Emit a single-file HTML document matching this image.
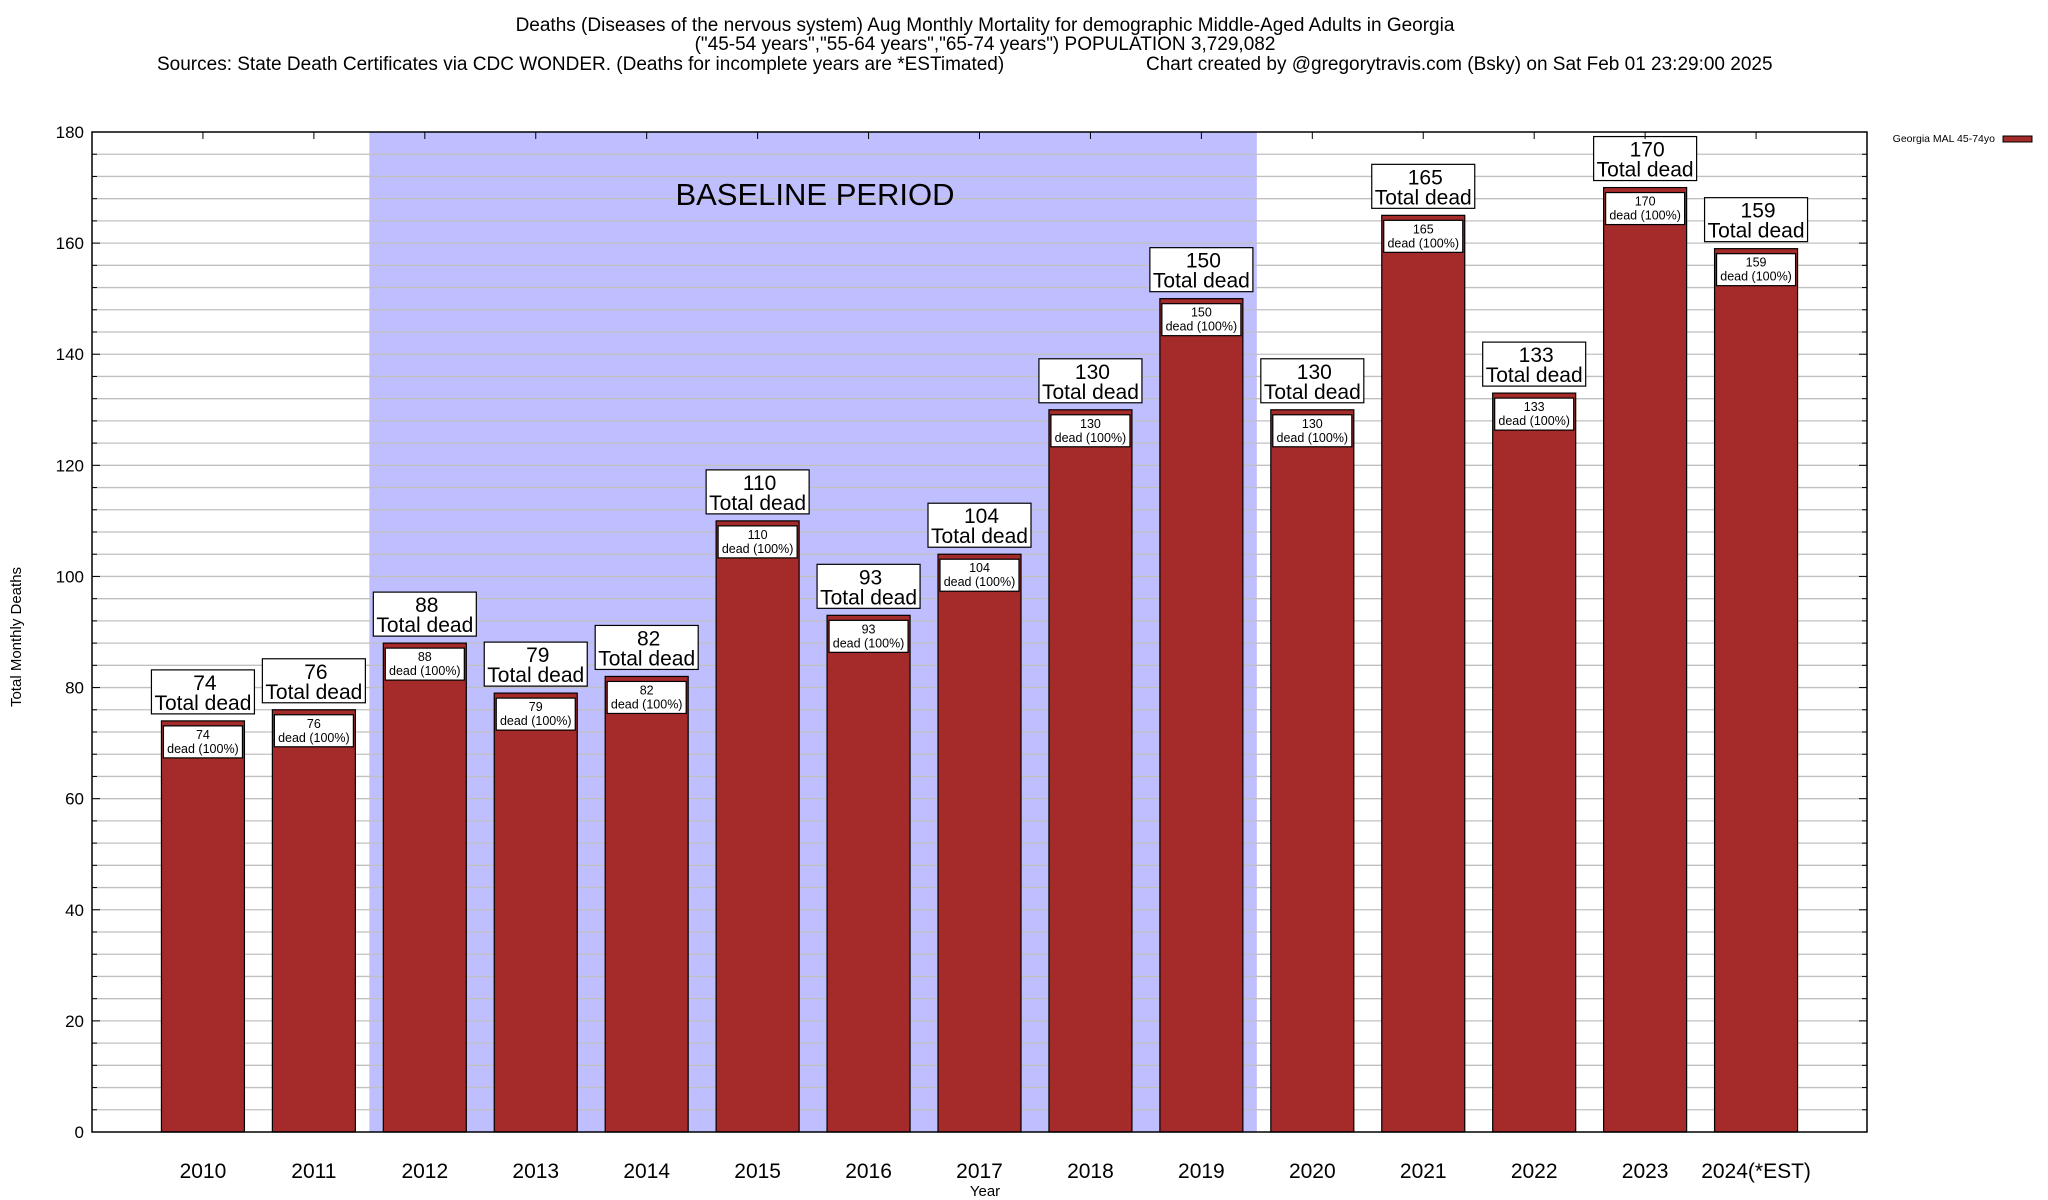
<!DOCTYPE html>
<html><head><meta charset="utf-8"><style>
html,body{margin:0;padding:0;background:#fff;}
svg{display:block;font-family:"Liberation Sans",Arial,sans-serif;}
</style></head><body>
<svg id="chart" width="2048" height="1200" xmlns="http://www.w3.org/2000/svg">
<rect x="0" y="0" width="2048" height="1200" fill="#fff"/>
<text x="985" y="31" font-size="19" text-anchor="middle">Deaths (Diseases of the nervous system) Aug Monthly Mortality for demographic Middle-Aged Adults in Georgia</text>
<text x="985" y="50" font-size="19" text-anchor="middle">("45-54 years","55-64 years","65-74 years") POPULATION 3,729,082</text>
<text x="157" y="70" font-size="19">Sources: State Death Certificates via CDC WONDER. (Deaths for incomplete years are *ESTimated)</text>
<text x="1146" y="70" font-size="19">Chart created by @gregorytravis.com (Bsky) on Sat Feb 01 23:29:00 2025</text>
<g id="plot"></g>
<text transform="translate(21,637) rotate(-90)" font-size="15" text-anchor="middle">Total Monthly Deaths</text>
<text x="985" y="1196" font-size="15" text-anchor="middle">Year</text>
<g>
<text x="1995" y="142" font-size="10.5" text-anchor="end">Georgia MAL 45-74yo</text>
<rect x="2003" y="136" width="29" height="6" fill="#a52a2a" stroke="#000" stroke-width="1"/>
</g>
</svg>
<script>
const categories = ["2010","2011","2012","2013","2014","2015","2016","2017","2018","2019","2020","2021","2022","2023","2024(*EST)"];
const deaths = [74,76,88,79,82,110,93,104,130,150,130,165,133,170,159];
const yTicks = [0,20,40,60,80,100,120,140,160,180];
const baselineRange = [2012, 2019];

const NS = "http://www.w3.org/2000/svg";
const L = 92, R = 1867, T = 132, B = 1132, YMAX = 180;
const slot = (R - L) / (categories.length + 1);
const xPos = i => L + slot * (i + 1);
const yPos = v => B - (v / YMAX) * (B - T);
const g = document.getElementById("plot");
function mk(tag, attrs, parent) {
  const e = document.createElementNS(NS, tag);
  for (const k in attrs) e.setAttribute(k, attrs[k]);
  (parent || g).appendChild(e);
  return e;
}
const bi0 = categories.indexOf(String(baselineRange[0]));
const bi1 = categories.indexOf(String(baselineRange[1]));
const shade = mk("rect", {x: xPos(bi0) - slot/2, y: T, width: xPos(bi1) - xPos(bi0) + slot, height: B - T, fill: "#bfbfff"});


for (let v = 4; v < YMAX; v += 4) {
  const gl = mk("line", {x1: L, x2: R, y1: yPos(v), y2: yPos(v), stroke: "#c0c0c0", "stroke-width": 1.3});
  
  
  const isMajor = v % 20 === 0;
  const len = isMajor ? 8 : 5;
  const tl = mk("line", {x1: L, x2: L + len, y1: yPos(v), y2: yPos(v), stroke: "#000", "stroke-width": 1});
  
  
  const tr = mk("line", {x1: R - len, x2: R, y1: yPos(v), y2: yPos(v), stroke: "#000", "stroke-width": 1});
  
  
}
const bl = mk("text", {x: 815, y: 205, "font-size": 31, "text-anchor": "middle"});
bl.textContent = "BASELINE PERIOD";


yTicks.forEach(v => {
  const t = mk("text", {x: 84, y: yPos(v) + 6, "font-size": 17, "text-anchor": "end"});
  t.textContent = v;
  
  
});
const bw = 83;
categories.forEach((c, i) => {
  const cx = xPos(i), v = deaths[i], top = yPos(v);
  const bar = mk("rect", {x: cx - bw/2, y: top, width: bw, height: B - top, fill: "#a52a2a", stroke: "#000", "stroke-width": 1.2});
  
  
  const inner = mk("rect", {x: cx - bw/2 + 2, y: top + 5, width: bw - 4, height: 32, fill: "#fff", stroke: "#000", "stroke-width": 1.2});
  
  
  const t1 = mk("text", {x: cx, y: top + 18, "font-size": 12.5, "text-anchor": "middle"});
  t1.textContent = v;
  
  
  const t2 = mk("text", {x: cx, y: top + 32, "font-size": 12.5, "text-anchor": "middle"});
  t2.textContent = "dead (100%)";
  
  
  const boxB = top - 7, boxT = boxB - 44;
  const box = mk("rect", {x: cx - 51.5, y: boxT, width: 103, height: 44, fill: "#fff", stroke: "#000", "stroke-width": 1.2});
  
  
  const t3 = mk("text", {x: cx + 2, y: boxT + 20, "font-size": 21, "text-anchor": "middle"});
  t3.textContent = v;
  
  
  const t4 = mk("text", {x: cx, y: boxT + 40, "font-size": 21, "text-anchor": "middle"});
  t4.textContent = "Total dead";
  
  
  const tt = mk("line", {x1: cx, x2: cx, y1: T, y2: T + 7, stroke: "#000", "stroke-width": 1});
  
  
  const xl = mk("text", {x: cx, y: 1178, "font-size": 21, "text-anchor": "middle"});
  xl.textContent = c;
  
  
});
const frame = mk("rect", {x: L, y: T, width: R - L, height: B - T, fill: "none", stroke: "#000", "stroke-width": 1.5});


</script>
</body></html>
